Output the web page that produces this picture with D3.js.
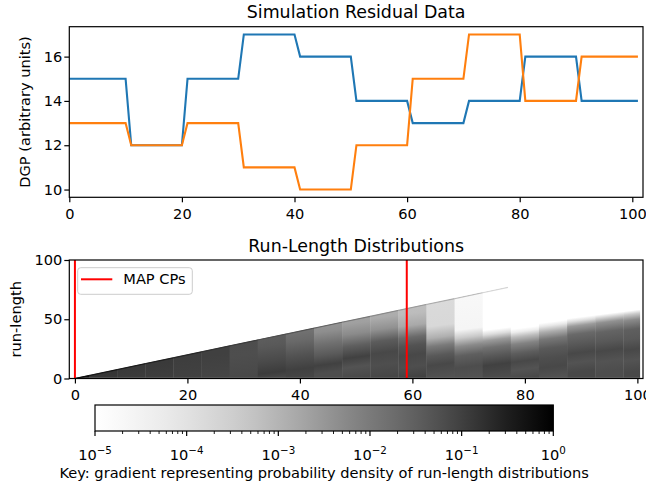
<!DOCTYPE html>
<html>
<head>
<meta charset="utf-8">
<script src="https://cdn.jsdelivr.net/npm/d3@7"></script>
<style>
body { margin: 0; background: #fff; }
text { font-family: "DejaVu Sans", sans-serif; fill: #000; }
</style>
</head>
<body>
<script>
// simulation DGP + run-length distribution chart with d3

//DGP means for the two simulated series (index 0..101)
var blueDGP = [
    15,15,15,15,15,15,15,15,15,15,15,
    12,12,12,12,12,12,12,12,12,12,
    15,15,15,15,15,15,15,15,15,15,
    17,17,17,17,17,17,17,17,17,17,
    16,16,16,16,16,16,16,16,16,16,
    14,14,14,14,14,14,14,14,14,14,
    13,13,13,13,13,13,13,13,13,13,
    14,14,14,14,14,14,14,14,14,14,
    16,16,16,16,16,16,16,16,16,16,
    14,14,14,14,14,14,14,14,14,14,14
];
var orangeDGP = [
    13,13,13,13,13,13,13,13,13,13,13,
    12,12,12,12,12,12,12,12,12,12,
    13,13,13,13,13,13,13,13,13,13,
    11,11,11,11,11,11,11,11,11,11,
    10,10,10,10,10,10,10,10,10,10,
    12,12,12,12,12,12,12,12,12,12,
    15,15,15,15,15,15,15,15,15,15,
    17,17,17,17,17,17,17,17,17,17,
    14,14,14,14,14,14,14,14,14,14,
    16,16,16,16,16,16,16,16,16,16,16
];

var topXTicks = [0, 20, 40, 60, 80, 100];
var topYTicks = [10, 12, 14, 16];
var rlXTicks = [0, 20, 40, 60, 80, 100];
var rlYTicks = [0, 50, 100];
var cbExponents = [-5, -4, -3, -2, -1, 0];

//MAP change points
var mapCPs = [0, 59];

//run-length distribution, read per time column: [run-length, log10 density]
var rlTimes = [0, 5, 10, 15, 20, 25, 30, 35, 40, 45, 50, 55, 60, 65, 70, 75, 80, 85, 90, 95, 100];
var rlStops = [
    [[0,-0.3],[3,-0.3]],
    [[0,-0.89],[4,-0.85],[8,-0.85]],
    [[0,-0.95],[8,-0.9],[13,-0.9]],
    [[0,-0.98],[12,-0.92],[18,-0.9]],
    [[0,-1.02],[16,-0.98],[23,-0.95]],
    [[0,-1.08],[20,-1.0],[28,-1.0]],
    [[0,-1.12],[20,-1.22],[33,-1.2]],
    [[0,-1.12],[5,-0.95],[15,-1.15],[28,-1.4],[38,-1.5]],
    [[0,-1.1],[8,-1.0],[20,-1.3],[32,-1.68],[43,-1.9]],
    [[0,-1.2],[5,-1.2],[12,-1.02],[20,-1.4],[30,-1.83],[40,-2.35],[48,-2.5]],
    [[0,-1.12],[10,-1.3],[18,-1.02],[28,-1.5],[38,-2.3],[47,-2.65],[53,-2.7]],
    [[0,-1.08],[12,-1.22],[22,-1.12],[32,-1.45],[42,-2.4],[52,-2.85],[58,-2.9]],
    [[0,-1.02],[10,-1.22],[20,-1.12],[28,-1.3],[35,-1.7],[45,-2.8],[55,-3.15],[63,-3.2]],
    [[0,-1.3],[12,-1.12],[20,-1.4],[28,-2.0],[35,-2.9],[45,-3.75],[68,-3.8]],
    [[0,-1.3],[10,-1.2],[20,-1.5],[28,-2.28],[35,-3.4],[42,-4.6],[73,-4.7]],
    [[0,-1.2],[12,-1.02],[20,-1.4],[27,-1.83],[33,-2.55],[38,-3.85],[42,-5.2]],
    [[0,-1.12],[8,-1.3],[15,-1.12],[22,-1.47],[30,-2.15],[36,-3.15],[40,-4.3],[43,-5.2]],
    [[0,-1.3],[10,-1.12],[18,-1.22],[26,-1.4],[34,-1.95],[40,-2.85],[45,-4.15],[48,-5.2]],
    [[0,-1.12],[6,-1.12],[14,-1.3],[22,-1.12],[30,-1.4],[38,-1.68],[45,-2.55],[49,-3.85],[52,-5.2]],
    [[0,-1.2],[6,-1.2],[15,-1.3],[24,-1.12],[32,-1.4],[40,-1.6],[48,-2.4],[52,-3.55],[55,-5.2]],
    [[0,-1.12],[6,-1.12],[16,-1.3],[25,-1.12],[34,-1.4],[42,-1.5],[50,-2.28],[55,-3.45],[58,-5.2]]
];
//log10 density of the r = 0 row (change point just happened)
var rlBottom = -2.1;
//log10 density of the run that started at t=0 (the r = t diagonal), same time columns
var rlEdge = [-0.2, -0.4, -0.45, -0.55, -0.63, -0.8, -0.95, -1.22, -1.3, -1.6, -1.95, -2.28, -2.55, -2.85, -3.15, -3.7];
var edgeEnd = 77;

window.onload = setChart();

function setChart(){
    var width = 646,
        height = 488,
        fs = 14.6,
        titleFs = 17.4,
        isoSlope = 0.6; //run-length gained per step along the shading

    var svg = d3.select("body")
        .append("svg")
        .attr("width", width)
        .attr("height", height);

    var defs = svg.append("defs");

    //---------------- top panel ----------------
    var top = {left: 69.3, right: 643, top: 26.7, bottom: 197.3};

    var x = d3.scaleLinear().domain([0, 101.9]).range([top.left, top.right]);
    var y = d3.scaleLinear().domain([9.65, 17.35]).range([top.bottom, top.top]);

    var line = d3.line()
        .x(function(d, i){ return x(i); })
        .y(function(d){ return y(d); });

    svg.append("path")
        .datum(blueDGP)
        .attr("d", line)
        .attr("fill", "none")
        .attr("stroke", "#1f77b4")
        .attr("stroke-width", 2.1);

    svg.append("path")
        .datum(orangeDGP)
        .attr("d", line)
        .attr("fill", "none")
        .attr("stroke", "#ff7f0e")
        .attr("stroke-width", 2.1);

    drawAxes(svg, x, y, top, topXTicks, topYTicks, fs);

    svg.append("text")
        .attr("x", (top.left + top.right) / 2)
        .attr("y", 17.5)
        .attr("text-anchor", "middle")
        .style("font-size", titleFs + "px")
        .text("Simulation Residual Data");

    svg.append("text")
        .attr("transform", "translate(29.6," + ((top.top + top.bottom) / 2) + ") rotate(-90)")
        .attr("text-anchor", "middle")
        .style("font-size", fs + "px")
        .text("DGP (arbitrary units)");

    //---------------- run-length panel ----------------
    var rl = {left: 69.3, right: 643, top: 260, bottom: 378.5};

    var xR = d3.scaleLinear().domain([-1, 101]).range([rl.left, rl.right]);
    var yR = d3.scaleLinear().domain([0, 100]).range([rl.bottom, rl.top]);

    var grey = d3.scaleSequentialLog(d3.interpolateGreys)
        .domain([1e-5, 1])
        .clamp(true);

    //triangle r <= t
    var tri = [[-0.5, 0], [100.5, 101]].map(function(p){ return [xR(p[0]), yR(p[1])]; });
    tri.push([xR(100.5), rl.bottom], [xR(-0.5), rl.bottom]);
    defs.append("clipPath")
        .attr("id", "tri")
        .append("polygon")
        .attr("points", tri.map(function(p){ return p.join(","); }).join(" "));

    //gradient vector normal to lines of slope isoSlope, scaled so r/100 at the column centre
    var kx = xR(1) - xR(0),
        ky = yR(0) - yR(1),
        f = -100 * ky * kx / (isoSlope * isoSlope * ky * ky + kx * kx),
        gdx = f * isoSlope * ky,
        gdy = f * kx;

    rlTimes.forEach(function(t, i){
        var grad = defs.append("linearGradient")
            .attr("id", "rl" + i)
            .attr("gradientUnits", "userSpaceOnUse")
            .attr("x1", xR(t)).attr("y1", yR(0))
            .attr("x2", xR(t) + gdx).attr("y2", yR(0) + gdy);
        grad.selectAll("stop")
            .data(rlStops[i])
            .enter()
            .append("stop")
            .attr("offset", function(d){ return d[0] / 100; })
            .attr("stop-color", function(d){ return grey(Math.pow(10, d[1])); });
    });

    var heat = svg.append("g").attr("clip-path", "url(#tri)");

    heat.selectAll(".col")
        .data(rlTimes)
        .enter()
        .append("rect")
        .attr("class", "col")
        .attr("x", function(t){ return xR(Math.max(t - 2.5, -0.5)); })
        .attr("width", function(t){
            return xR(Math.min(t + 2.5, 100.5)) - xR(Math.max(t - 2.5, -0.5)) + 0.4;
        })
        .attr("y", rl.top)
        .attr("height", rl.bottom - rl.top)
        .attr("fill", function(t, i){ return "url(#rl" + i + ")"; });

    //r = 0 row
    heat.append("rect")
        .attr("x", xR(-0.5))
        .attr("width", xR(100.5) - xR(-0.5))
        .attr("y", yR(0.8))
        .attr("height", yR(0) - yR(0.8))
        .attr("fill", grey(Math.pow(10, rlBottom)));

    //diagonal run since t=0
    heat.selectAll(".edge")
        .data(rlEdge)
        .enter()
        .append("line")
        .attr("class", "edge")
        .attr("x1", function(d, i){ return xR(Math.max(rlTimes[i] - 2.5, 0)); })
        .attr("y1", function(d, i){ return yR(Math.max(rlTimes[i] - 2.5, 0)); })
        .attr("x2", function(d, i){ return xR(Math.min(rlTimes[i] + 2.5, edgeEnd)); })
        .attr("y2", function(d, i){ return yR(Math.min(rlTimes[i] + 2.5, edgeEnd)); })
        .attr("stroke", function(d){ return grey(Math.pow(10, d)); })
        .attr("stroke-width", 1.3);

    //MAP change points
    svg.selectAll(".cp")
        .data(mapCPs)
        .enter()
        .append("line")
        .attr("class", "cp")
        .attr("x1", function(d){ return xR(d); })
        .attr("x2", function(d){ return xR(d); })
        .attr("y1", rl.top)
        .attr("y2", rl.bottom)
        .attr("stroke", "red")
        .attr("stroke-width", 2);

    drawAxes(svg, xR, yR, rl, rlXTicks, rlYTicks, fs);

    svg.append("text")
        .attr("x", (rl.left + rl.right) / 2)
        .attr("y", 252)
        .attr("text-anchor", "middle")
        .style("font-size", titleFs + "px")
        .text("Run-Length Distributions");

    svg.append("text")
        .attr("transform", "translate(21.1," + ((rl.top + rl.bottom) / 2) + ") rotate(-90)")
        .attr("text-anchor", "middle")
        .style("font-size", fs + "px")
        .text("run-length");

    //legend
    var legend = svg.append("g");
    legend.append("rect")
        .attr("x", 77.7).attr("y", 267.7)
        .attr("width", 114.6).attr("height", 26.6)
        .attr("rx", 3)
        .attr("fill", "#fff")
        .attr("fill-opacity", 0.8)
        .attr("stroke", "#cccccc")
        .attr("stroke-width", 1);
    legend.append("line")
        .attr("x1", 81).attr("x2", 112.3)
        .attr("y1", 279.3).attr("y2", 279.3)
        .attr("stroke", "red")
        .attr("stroke-width", 2);
    legend.append("text")
        .attr("x", 123.3).attr("y", 284.3)
        .style("font-size", fs + "px")
        .text("MAP CPs");

    //---------------- colorbar ----------------
    var cb = {left: 95, right: 553.3, top: 405, bottom: 431};
    var xC = d3.scaleLog().domain([1e-5, 1]).range([cb.left, cb.right]);

    var cbGrad = defs.append("linearGradient")
        .attr("id", "cbgrad")
        .attr("x1", 0).attr("x2", 1).attr("y1", 0).attr("y2", 0);
    cbGrad.selectAll("stop")
        .data(d3.range(0, 1.0001, 0.05))
        .enter()
        .append("stop")
        .attr("offset", function(d){ return d; })
        .attr("stop-color", function(d){ return d3.interpolateGreys(d); });

    svg.append("rect")
        .attr("x", cb.left).attr("y", cb.top)
        .attr("width", cb.right - cb.left).attr("height", cb.bottom - cb.top)
        .attr("fill", "url(#cbgrad)")
        .attr("stroke", "#000")
        .attr("stroke-width", 1.2);

    //minor ticks
    var minor = [];
    cbExponents.slice(0, -1).forEach(function(e){
        for (var m = 2; m < 10; m++) minor.push(m * Math.pow(10, e));
    });
    svg.selectAll(".minor")
        .data(minor)
        .enter()
        .append("line")
        .attr("x1", function(d){ return xC(d); })
        .attr("x2", function(d){ return xC(d); })
        .attr("y1", cb.bottom)
        .attr("y2", cb.bottom + 3)
        .attr("stroke", "#000")
        .attr("stroke-width", 0.9);

    var major = svg.selectAll(".major")
        .data(cbExponents)
        .enter()
        .append("g")
        .attr("transform", function(e){ return "translate(" + xC(Math.pow(10, e)) + ",0)"; });
    major.append("line")
        .attr("y1", cb.bottom)
        .attr("y2", cb.bottom + 5)
        .attr("stroke", "#000")
        .attr("stroke-width", 1.2);
    var lab = major.append("text")
        .attr("y", 460)
        .attr("text-anchor", "middle")
        .style("font-size", fs + "px");
    lab.append("tspan").text("10");
    lab.append("tspan")
        .attr("dy", -6.5)
        .style("font-size", "10.3px")
        .text(function(e){ return e < 0 ? "\u2212" + (-e) : String(e); });

    svg.append("text")
        .attr("x", (cb.left + cb.right) / 2)
        .attr("y", 477.5)
        .attr("text-anchor", "middle")
        .style("font-size", fs + "px")
        .text("Key: gradient representing probability density of run-length distributions");
};

//axes with ticks and a full frame
function drawAxes(svg, x, y, box, xTicks, yTicks, fs){
    var gx = svg.append("g")
        .attr("transform", "translate(0," + box.bottom + ")")
        .call(d3.axisBottom(x).tickValues(xTicks).tickSize(5).tickPadding(6.5).tickFormat(d3.format("d")));
    var gy = svg.append("g")
        .attr("transform", "translate(" + box.left + ",0)")
        .call(d3.axisLeft(y).tickValues(yTicks).tickSize(5).tickPadding(2).tickFormat(d3.format("d")));

    [gx, gy].forEach(function(g){
        g.select(".domain").remove();
        g.attr("font-family", null).attr("font-size", null);
        g.selectAll("line").attr("stroke", "#000").attr("stroke-width", 1.2);
        g.selectAll("text").style("font-size", fs + "px").attr("fill", "#000");
    });

    svg.append("rect")
        .attr("x", box.left).attr("y", box.top)
        .attr("width", box.right - box.left).attr("height", box.bottom - box.top)
        .attr("fill", "none")
        .attr("stroke", "#000")
        .attr("stroke-width", 1.2);
};
</script>
</body>
</html>
